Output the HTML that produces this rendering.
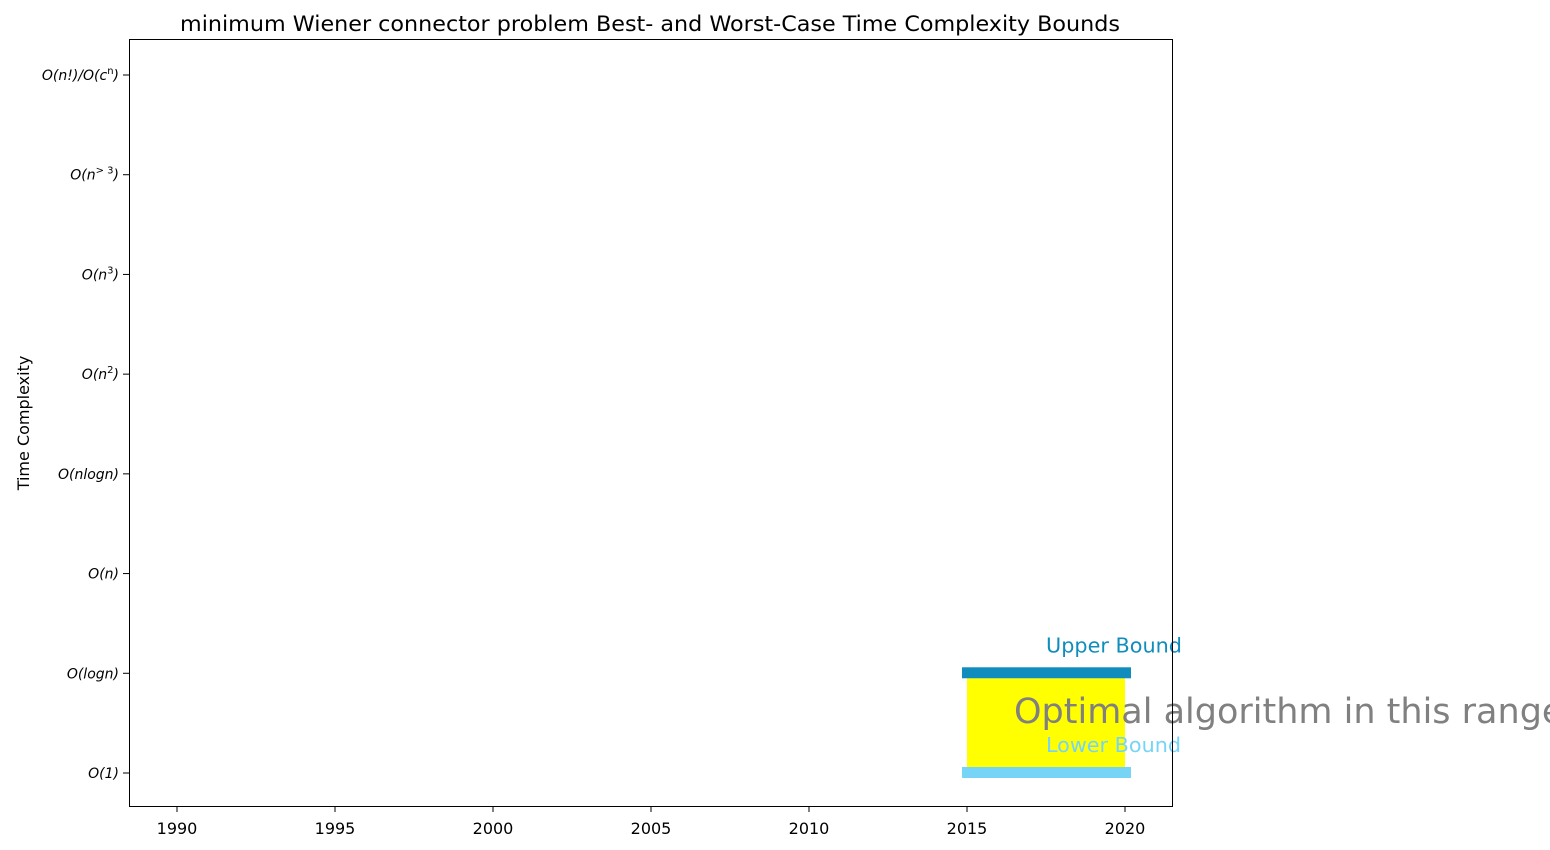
<!DOCTYPE html>
<html><head><meta charset="utf-8"><style>
html,body{margin:0;padding:0;background:#fff;width:1550px;height:850px;overflow:hidden}
svg{font-family:"DejaVu Sans","Liberation Sans",sans-serif}
</style></head><body>
<svg id="chart" width="1550" height="850" viewBox="0 0 1550 850" xmlns="http://www.w3.org/2000/svg">
<text x="650" y="31" font-size="21" textLength="940" lengthAdjust="spacingAndGlyphs" text-anchor="middle">minimum Wiener connector problem Best- and Worst-Case Time Complexity Bounds</text>
<text transform="translate(29,423) rotate(-90)" font-size="16" text-anchor="middle">Time Complexity</text>
<g id="plot"></g>
<rect x="129.5" y="39.5" width="1043" height="767" fill="none" stroke="#000" stroke-width="1"/>
</svg>
<script>
const yLabels = [["O(1)",""],["O(logn)",""],["O(n)",""],["O(nlogn)",""],["O(n","2",")"],["O(n","3",")"],["O(n","> 3",")"],["O(n!)/O(c","n",")"]];
const xTicks = [1990,1995,2000,2005,2010,2015,2020];
const boundYears = [2015,2020];
const upperLevel = 1;
const lowerLevel = 0;

const NS="http://www.w3.org/2000/svg";
const X = y => 177 + (y-1990)*(1125-177)/30;
const Y = v => 773 - v*(773-75)/7;
const g = document.getElementById('plot');
function el(tag, attrs, text, parent){const e=document.createElementNS(NS,tag);for(const k in attrs)e.setAttribute(k,attrs[k]);if(text!==undefined)e.textContent=text;(parent||g).appendChild(e);return e;}

xTicks.forEach(t=>{
  const l=el('line',{x1:X(t),x2:X(t),y1:806,y2:812,stroke:'#000'});
  
  
  const tx=el('text',{x:X(t),y:834,'font-size':16,'text-anchor':'middle'},t);
  
  
});
yLabels.forEach((s,i)=>{
  const l=el('line',{x1:123,x2:129,y1:Y(i),y2:Y(i),stroke:'#000'});
  
  
  const tx=el('text',{x:119,y:Y(i)+5,'font-size':14,'text-anchor':'end','font-style':'italic'});
  
  
  el('tspan',{},s[0],tx);
  if(s[1]){el('tspan',{dy:-6,'font-size':10,'font-style':'normal'},s[1],tx);el('tspan',{dy:6},s[2],tx);}
});
const x0=X(boundYears[0]), x1=X(boundYears[1]);
const fill=el('rect',{x:x0,y:Y(upperLevel)+5,width:x1-x0,height:Y(lowerLevel)-Y(upperLevel)-10,fill:'#ffff00'});


const ub=el('rect',{x:x0-5,y:Y(upperLevel)-6,width:x1-x0+11,height:11,fill:'#108dbd'});


const lb=el('rect',{x:x0-5,y:Y(lowerLevel)-6,width:x1-x0+11,height:11,fill:'#76d5f7'});


const mid=(x0+x1)/2;
const ut=el('text',{x:mid,y:Y(upperLevel)-21,'font-size':20,textLength:136,lengthAdjust:'spacingAndGlyphs',fill:'#108dbd'},'Upper Bound');


const ot=el('text',{x:x0+47,y:(Y(upperLevel)+Y(lowerLevel))/2+0,'font-size':35,fill:'#808080'},'Optimal algorithm in this range');


const lt=el('text',{x:mid,y:Y(lowerLevel)-21,'font-size':20,textLength:135,lengthAdjust:'spacingAndGlyphs',fill:'#76d5f7'},'Lower Bound');


</script>
</body></html>
